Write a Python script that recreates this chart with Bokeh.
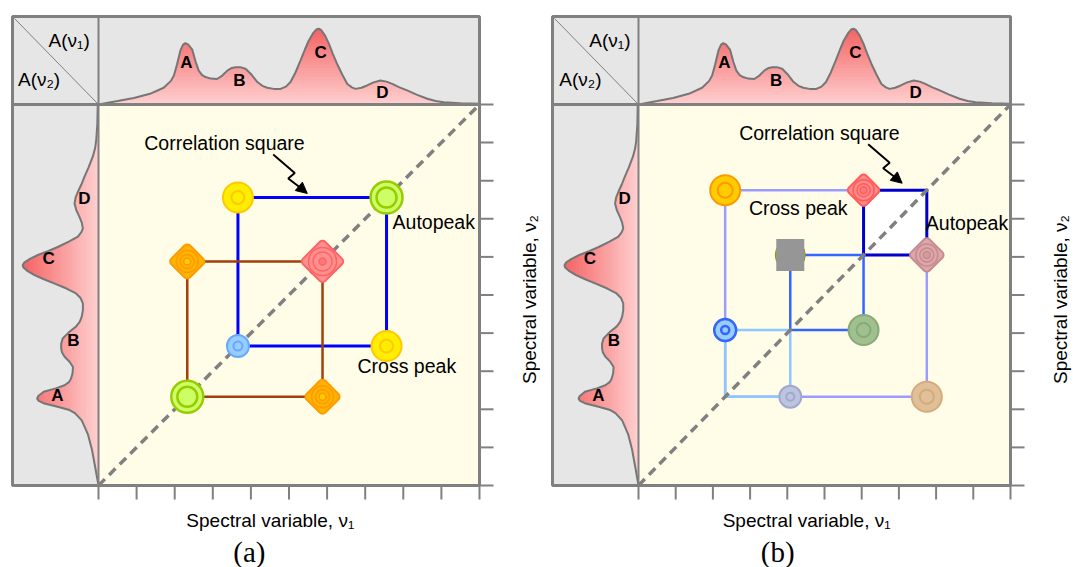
import numpy as np
from bokeh.plotting import figure
from bokeh.layouts import row
from bokeh.models import Range1d, Arrow, NormalHead
from bokeh.core.properties import value
from bokeh.embed import file_html
from bokeh.resources import INLINE

# ---------------- data ----------------
peak_names = ["A", "B", "C", "D"]
peaks_a = [2.33, 3.66, 5.88, 7.56]          # peak positions, panel (a)
peaks_b = [2.33, 4.08, 6.05, 7.75]          # peak positions, panel (b)
tick_values = [0, 1, 2, 3, 4, 5, 6, 7, 8, 9, 10]

# 1D spectrum A(nu) (position, intensity)
spec_pos = [0.00, 0.50, 0.93, 1.35, 1.71, 1.90, 1.98, 2.06, 2.15, 2.22, 2.28, 2.35,
            2.46, 2.55, 2.63, 2.72, 2.81, 2.95, 3.11, 3.25, 3.38, 3.50, 3.60, 3.72,
            3.86, 4.02, 4.17, 4.30, 4.43, 4.60, 4.78, 4.92, 5.04, 5.17, 5.30, 5.42,
            5.52, 5.64, 5.72, 5.78, 5.85, 5.95, 6.05, 6.15, 6.26, 6.40, 6.53, 6.65,
            6.75, 6.90, 7.05, 7.22, 7.40, 7.56, 7.71, 7.90, 8.10, 8.35, 8.63, 8.85,
            9.06, 9.50, 10.0]
spec_val = [0.00, 0.09, 0.17, 0.28, 0.44, 0.62, 0.76, 1.05, 1.42, 1.57, 1.61, 1.58,
            1.44, 1.12, 0.89, 0.77, 0.72, 0.68, 0.67, 0.76, 0.89, 0.96, 0.98, 0.98,
            0.94, 0.78, 0.59, 0.49, 0.44, 0.41, 0.41, 0.47, 0.59, 0.84, 1.15, 1.45,
            1.68, 1.88, 1.97, 1.99, 1.95, 1.80, 1.59, 1.33, 1.07, 0.78, 0.54, 0.45,
            0.41, 0.44, 0.50, 0.58, 0.63, 0.60, 0.54, 0.45, 0.37, 0.26, 0.15, 0.09,
            0.06, 0.03, 0.02]

# letter label placement on the 1D spectra (position, depth)
top_label_pos = [2.31, 3.70, 5.83, 7.45]
top_label_h = [1.10, 0.63, 1.36, 0.31]
left_label_pos = [2.36, 3.81, 5.96, 7.53]
left_label_d = [1.08, 0.66, 1.31, 0.37]

# correlation squares: (low peak, high peak, style)
squares_a = [(1, 3, "blue"), (0, 2, "brown")]
squares_b = [(0, 3, "lavender"), (0, 1, "lightblue"), (1, 2, "midblue"), (2, 3, "darkblue")]

# peaks on the 2D map: (nu1 peak, nu2 peak, style)
markers_a = [(1, 3, "yellow"), (3, 3, "green"), (0, 2, "orange_d"), (2, 2, "red_d"),
             (1, 1, "blue_s"), (3, 1, "yellow"), (0, 0, "green"), (2, 0, "orange_d")]
markers_b = [(0, 3, "orange"), (2, 3, "red_d2"), (1, 2, "gray_sq"), (3, 2, "brown_d"),
             (0, 1, "blue_s2"), (2, 1, "green2"), (1, 0, "purple_s"), (3, 0, "tan")]

# ---------------- styles ----------------
FONT = value("Liberation Sans")
GRAY = "#808080"
LINE_STYLES = {
    "blue": ("#0000ff", 3), "brown": ("#a0400a", 2.5),
    "lavender": ("#9c9cff", 2.5), "lightblue": ("#8ec6ff", 2.5),
    "midblue": ("#3366ff", 2.5), "darkblue": ("#0000cc", 3),
}
# circle: (size, fill, edge, edge_w, ring sizes, ring width)
CIRCLES = {
    "yellow": (30, "#ffee00", "#ffc800", 2, [13], 2),
    "green": (32, "#ccff66", "#99cc00", 2.5, [20], 2.5),
    "blue_s": (22, "#99ccff", "#66aaff", 2, [9], 2),
    "orange": (30, "#ffcc00", "#ff9900", 2, [15], 2),
    "blue_s2": (22, "#99ccff", "#3366ff", 2.5, [8], 2.5),
    "green2": (30, "#a0c090", "#88aa77", 2, [14], 2),
    "purple_s": (22, "#bcc4de", "#a0a8d0", 2, [8], 2),
    "tan": (30, "#e0c09a", "#d6ab78", 2, [14], 2),
}
# rounded diamond: (square side, fill, edge, rings, center dot fill)
DIAMONDS = {
    "orange_d": (18.5, "#ffb400", "#ff9a00", [22, 14], "#ffcc00"),
    "red_d": (23.5, "#ff9090", "#ff6464", [28, 19], "#ff7a7a"),
    "red_d2": (16.5, "#ff8c8c", "#ff5c5c", [21, 13], "#ff7777"),
    "brown_d": (18, "#dba8ab", "#c88a8e", [22, 14], "#d49a9e"),
}


def mix(v, vmax=2.05):
    t = min(max(v / vmax, 0.0), 1.0)
    c0 = (255, 208, 208)
    c1 = (244, 96, 96)
    return "#%02x%02x%02x" % tuple(int(round(a + (b - a) * t)) for a, b in zip(c0, c1))


def make_panel(peaks, squares, markers, px0, sx, fig_left, fig_width, cfg):
    sy, py0 = 38.1, 485.0
    fig_top, fig_height = 0, 567
    p = figure(width=fig_width, height=fig_height,
               x_range=Range1d((fig_left - px0) / sx, (fig_left + fig_width - px0) / sx),
               y_range=Range1d((py0 - fig_top - fig_height) / sy, (py0 - fig_top) / sy),
               output_backend="svg", toolbar_location=None, min_border=0,
               outline_line_color=None, title=None)
    p.axis.visible = False
    p.grid.visible = False
    p.background_fill_color = "white"
    p.border_fill_color = "white"

    xl = -86.0 / sx              # left edge of the 1D box
    yt = 10 + 88.0 / sy          # top edge of the 1D box

    # backgrounds
    p.quad(left=[xl], right=[10], bottom=[10], top=[yt], fill_color="#e6e6e6", line_color=None)
    p.quad(left=[xl], right=[0], bottom=[0], top=[10], fill_color="#e6e6e6", line_color=None)
    p.quad(left=[0], right=[10], bottom=[0], top=[10], fill_color="#fffde8", line_color=None)

    pos = np.array(spec_pos)
    val = np.array(spec_val)
    levels = np.arange(2.0, 0.0, -0.08)
    # top spectrum with vertical gradient
    p.varea(x=pos, y1=10, y2=10 + val, fill_color=mix(2.05))
    for h in levels:
        p.varea(x=pos, y1=10, y2=10 + np.minimum(val, h), fill_color=mix(h - 0.04))
    p.line(x=pos, y=10 + val, line_color="#767676", line_width=2)
    # left spectrum with horizontal gradient
    p.harea(y=pos, x1=-val, x2=0, fill_color=mix(2.05))
    for h in levels:
        p.harea(y=pos, x1=-np.minimum(val, h), x2=0, fill_color=mix(h - 0.04))
    p.line(x=-val, y=pos, line_color="#767676", line_width=2)

    # dividers and corner diagonal
    p.segment(x0=[xl], y0=[10], x1=[10], y1=[10], line_color=GRAY, line_width=3)
    p.segment(x0=[0], y0=[0], x1=[0], y1=[yt], line_color=GRAY, line_width=2)
    p.segment(x0=[xl + 2.0 / sx], y0=[yt - 2.0 / sy], x1=[0], y1=[10], line_color=GRAY, line_width=1)

    # correlation squares
    for lo, hi, st in squares:
        col, w = LINE_STYLES[st]
        a, b = peaks[lo], peaks[hi]
        if st == "darkblue":
            p.quad(left=[a], right=[b], bottom=[a], top=[b], fill_color="white", line_color=None)
        p.line(x=[a, b, b, a, a], y=[a, a, b, b, a], line_color=col, line_width=w, line_join="miter")

    # diagonal
    p.line(x=[0, 10], y=[0, 10], line_color=GRAY, line_width=3.5, line_dash="9 6")

    # peaks
    for i, j, st in markers:
        x, y = [peaks[i]], [peaks[j]]
        if st in CIRCLES:
            s, fc, ec, ew, rings, rw = CIRCLES[st]
            p.scatter(x=x, y=y, marker="circle", size=s, fill_color=fc, line_color=ec, line_width=ew)
            for r in rings:
                p.scatter(x=x, y=y, marker="circle", size=r, fill_color=None, line_color=ec, line_width=rw)
        elif st in DIAMONDS:
            s, fc, ec, rings, dot = DIAMONDS[st]
            p.scatter(x=x, y=y, marker="square", size=s, angle=np.pi / 4, fill_color=ec,
                      line_color=ec, line_width=10, line_join="round")
            p.scatter(x=x, y=y, marker="square", size=s, angle=np.pi / 4, fill_color=fc,
                      line_color=fc, line_width=6, line_join="round")
            for r in rings:
                p.scatter(x=x, y=y, marker="circle", size=r, fill_color=None, line_color=ec, line_width=1.5)
            p.scatter(x=x, y=y, marker="circle", size=7, fill_color=dot, line_color=ec, line_width=1.5)
        elif st == "gray_sq":
            p.scatter(x=x, y=y, marker="circle", size=30, fill_color="#b4b43c", line_color="#8c8c14", line_width=1)
            p.rect(x=x, y=y, width=28, height=32, width_units="screen", height_units="screen",
                   fill_color="#969696", line_color=None)

    # frame and ticks
    p.quad(left=[xl], right=[10], bottom=[0], top=[yt], fill_color=None, line_color=GRAY, line_width=3)
    tv = np.array(tick_values, dtype=float)
    p.segment(x0=np.full_like(tv, 10), y0=tv, x1=np.full_like(tv, 10 + 14 / sx), y1=tv,
              line_color=GRAY, line_width=2)
    p.segment(x0=tv, y0=np.zeros_like(tv), x1=tv, y1=np.full_like(tv, -14 / sy),
              line_color=GRAY, line_width=2)

    # spectrum letters
    p.text(x=top_label_pos, y=[10 + h for h in top_label_h], text=peak_names,
           text_font=FONT, text_font_size="17px", text_font_style="bold",
           text_align="center", text_baseline="middle", text_color="black")
    p.text(x=[-d for d in left_label_d], y=left_label_pos, text=peak_names,
           text_font=FONT, text_font_size="17px", text_font_style="bold",
           text_align="center", text_baseline="middle", text_color="black")

    # corner labels
    p.text(x=[-0.77, -1.56], y=[11.68, 10.66], text=["A(ν₁)", "A(ν₂)"],
           text_font=FONT, text_font_size="19px", text_align="center",
           text_baseline="middle", text_color="black")

    # arrow to the correlation square
    lo, hi = cfg["arrow_square"]
    ax = (peaks[lo] + peaks[hi]) / 2 + cfg["tip"][0] / sx
    ay = peaks[hi] - cfg["tip"][1] / sy
    path = [(-34, -39), (-12.5, -20.5), (-19, -15), (-6.5, -5.5)]
    xs = [ax + dx / sx for dx, dy in path]
    ys = [ay - dy / sy for dx, dy in path]
    p.line(x=xs, y=ys, line_color="black", line_width=2)
    p.add_layout(Arrow(end=NormalHead(size=11, fill_color="black", line_color="black", line_width=1),
                       x_start=xs[-1], y_start=ys[-1], x_end=ax, y_end=ay,
                       line_color="black", line_width=2))
    p.text(x=[xs[0]], y=[ys[0]], text=["Correlation square"], x_offset=-129, y_offset=-11.5,
           text_font=FONT, text_font_size="19.5px", text_align="left", text_baseline="middle",
           text_color="black")

    # peak annotations
    for key in ("auto", "cross"):
        (i, j), (ox, oy), align, label = cfg[key]
        p.text(x=[peaks[i]], y=[peaks[j]], text=[label], x_offset=ox, y_offset=oy,
               text_font=FONT, text_font_size="19.5px", text_align=align,
               text_baseline="middle", text_color="black")

    # axis labels and panel tag
    p.text(x=[cfg["xlabel_x"]], y=[-0.92], text=["Spectral variable, ν₁"],
           text_font=FONT, text_font_size="19px", text_align="center",
           text_baseline="middle", text_color="black")
    p.text(x=[cfg["ylabel_x"]], y=[4.88], text=["Spectral variable, ν₂"], angle=np.pi / 2,
           text_font=FONT, text_font_size="19px", text_align="center",
           text_baseline="middle", text_color="black")
    p.text(x=[cfg["tag_x"]], y=[-1.74], text=[cfg["tag"]],
           text_font=value("Liberation Serif"), text_font_size="29px", text_align="center",
           text_baseline="middle", text_color="black")
    return p


cfg_a = {
    "arrow_square": (1, 3), "tip": (-5, -4),
    "auto": ((3, 3), (6, 25), "left", "Autopeak"),
    "cross": ((3, 1), (-29, 20), "left", "Cross peak"),
    "xlabel_x": 4.51, "ylabel_x": 11.31, "tag_x": 3.96, "tag": "(a)",
}
cfg_b = {
    "arrow_square": (2, 3), "tip": (7, -7),
    "auto": ((3, 3), (-1, 33), "left", "Autopeak"),
    "cross": ((2, 3), (-16, 18), "right", "Cross peak"),
    "xlabel_x": 4.52, "ylabel_x": 11.34, "tag_x": 3.74, "tag": "(b)",
}

pa = make_panel(peaks_a, squares_a, markers_a, px0=98.0, sx=38.1, fig_left=0, fig_width=540, cfg=cfg_a)
pb = make_panel(peaks_b, squares_b, markers_b, px0=638.0, sx=37.2, fig_left=540, fig_width=534, cfg=cfg_b)

layout = row(pa, pb)
open("out.html", "w").write(file_html(layout, INLINE))
